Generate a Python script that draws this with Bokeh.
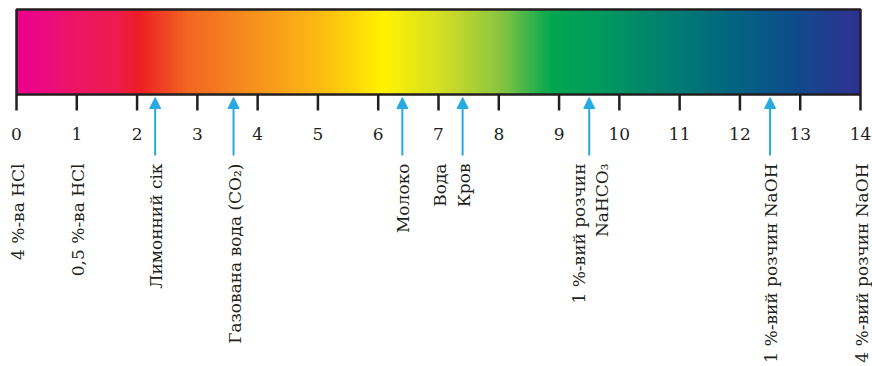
import numpy as np
from bokeh.plotting import figure
from bokeh.models import Range1d, ColumnDataSource, Arrow, NormalHead, LinearColorMapper
from bokeh.embed import file_html
from bokeh.resources import INLINE
from bokeh.core.properties import value

# ---- data ----
ph_ticks = list(range(0, 15))
tick_labels = [str(t) for t in ph_ticks]

stop_ph = [0.0, 0.45, 0.9, 1.6, 2.0, 2.8, 4.0, 5.0, 6.1, 7.0, 8.0, 8.9, 9.7, 10.8, 11.7, 12.8, 14.0]
stop_colors = ["#EC008C", "#EC0A80", "#EC1566", "#ED1B50", "#ED1C24", "#F26522", "#F7941D",
               "#FDB913", "#FFF200", "#D7DF23", "#8DC63F", "#00A651", "#009A5E",
               "#007F70", "#006A7E", "#0B4F8A", "#2E3192"]

arrow_ph = [2.3, 3.6, 6.4, 7.4, 9.5, 12.5]

label_ph = [0, 1, 2.3, 3.6, 6.4, 7.0, 7.4, 9.5, 12.5, 14]
label_text = ["4 %-ва HCl", "0,5 %-ва HCl", "Лимонний сік", "Газована вода (CO₂)",
              "Молоко", "Вода", "Кров", "1 %-вий розчин\nNaHCO₃",
              "1 %-вий розчин NaOH", "4 %-вий розчин NaOH"]

# ---- styles ----
INK = "#231F20"
ARROW = "#27AAE1"
FONT = "DejaVu Serif"

W, H = 872, 366
lo, hi = min(ph_ticks), max(ph_ticks)
left_px, right_px = 16, 860
px = (right_px - left_px) / (hi - lo)          # pixels per pH unit
x0 = lo - left_px / px
x1 = hi + (W - right_px) / px

p = figure(width=W, height=H, x_range=Range1d(x0, x1), y_range=Range1d(H, 0),
           output_backend="svg", toolbar_location=None, min_border=0)
p.axis.visible = False
p.grid.visible = False
p.outline_line_color = None
p.background_fill_color = "white"
p.border_fill_color = "white"

# gradient palette from colour stops
def hex2rgb(h):
    return np.array([int(h[i:i + 2], 16) for i in (1, 3, 5)], dtype=float)

rgb = np.array([hex2rgb(c) for c in stop_colors])
t = np.linspace(lo, hi, 256)
pal = []
for v in t:
    r = np.interp(v, stop_ph, rgb[:, 0])
    g = np.interp(v, stop_ph, rgb[:, 1])
    b = np.interp(v, stop_ph, rgb[:, 2])
    pal.append("#%02x%02x%02x" % (int(round(r)), int(round(g)), int(round(b))))
mapper = LinearColorMapper(palette=pal, low=lo, high=hi)

bar_top, bar_bot = 9, 94
img = np.array([np.linspace(lo, hi, 800)])
p.image(image=[img], x=lo, y=bar_top, dw=hi - lo, dh=bar_bot - bar_top, color_mapper=mapper)
p.quad(left=lo, right=hi, top=bar_top, bottom=bar_bot, fill_color=None,
       line_color=INK, line_width=2.5)

# ticks
p.segment(x0=ph_ticks, y0=[bar_bot] * len(ph_ticks), x1=ph_ticks,
          y1=[bar_bot + 16] * len(ph_ticks), line_color=INK, line_width=2.5)
p.text(x=ph_ticks, y=[133] * len(ph_ticks), text=tick_labels, text_align="center",
       text_baseline="middle", text_font=value(FONT), text_font_size="17px", text_color=INK)

# arrows
asrc = ColumnDataSource(dict(x=arrow_ph, y0=[155] * len(arrow_ph), y1=[97] * len(arrow_ph)))
p.add_layout(Arrow(end=NormalHead(size=11, fill_color=ARROW, line_color=ARROW, line_width=1),
                   x_start="x", y_start="y0", x_end="x", y_end="y1", source=asrc,
                   line_color=ARROW, line_width=2))

# substance labels
p.text(x=label_ph, y=[163] * len(label_ph), text=label_text, angle=np.pi / 2,
       text_align="right", text_baseline="middle", x_offset=1,
       text_font=value(FONT), text_font_size="17px", text_color=INK, text_line_height=1.15)

open("out.html", "w").write(file_html(p, INLINE))
